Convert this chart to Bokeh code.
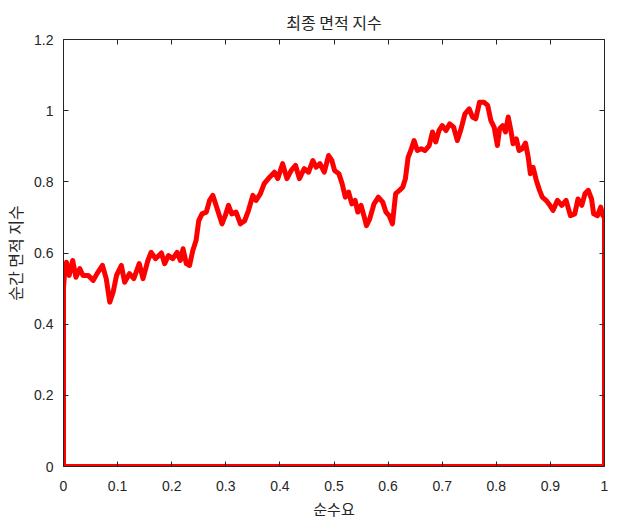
from bokeh.plotting import figure
from bokeh.models import Range1d, FixedTicker, LinearAxis
from bokeh.embed import file_html
from bokeh.resources import INLINE

title_text = "최종 면적 지수"
x_label = "순수요"
y_label = "순간 면적 지수"

x_ticks = [0, 0.1, 0.2, 0.3, 0.4, 0.5, 0.6, 0.7, 0.8, 0.9, 1]
x_tick_labels = ["0", "0.1", "0.2", "0.3", "0.4", "0.5", "0.6", "0.7", "0.8", "0.9", "1"]
y_ticks = [0, 0.2, 0.4, 0.6, 0.8, 1.0, 1.2]
y_tick_labels = ["0", "0.2", "0.4", "0.6", "0.8", "1", "1.2"]

net_demand = [
    0.0, 0.0, 0.002, 0.0055, 0.0105, 0.017, 0.023, 0.030, 0.036, 0.0455, 0.055, 0.062,
    0.072, 0.079, 0.0855, 0.0917, 0.098, 0.107, 0.113, 0.122, 0.130, 0.140, 0.147,
    0.156, 0.162, 0.170, 0.181, 0.187, 0.194, 0.202, 0.210, 0.216, 0.221, 0.227,
    0.233, 0.239, 0.245, 0.250, 0.256, 0.264, 0.270, 0.276, 0.282, 0.287, 0.293,
    0.299, 0.305, 0.311, 0.319, 0.327, 0.335, 0.342, 0.350, 0.356, 0.364, 0.371,
    0.381, 0.390, 0.396, 0.405, 0.413, 0.421, 0.429, 0.436, 0.445, 0.453, 0.461,
    0.467, 0.474, 0.482, 0.490, 0.496, 0.501, 0.509, 0.515, 0.521, 0.527, 0.533,
    0.539, 0.544, 0.550, 0.556, 0.560, 0.566, 0.574, 0.582, 0.590, 0.596, 0.602,
    0.608, 0.614, 0.621, 0.627, 0.632, 0.637, 0.642, 0.648, 0.654, 0.661, 0.668,
    0.676, 0.682, 0.688, 0.694, 0.700, 0.707, 0.714, 0.721, 0.728, 0.734, 0.742,
    0.750, 0.756, 0.762, 0.769, 0.777, 0.784, 0.790, 0.796, 0.802, 0.806, 0.812,
    0.817, 0.822, 0.827, 0.831, 0.837, 0.842, 0.848, 0.854, 0.859, 0.863, 0.868,
    0.874, 0.880, 0.885, 0.892, 0.899, 0.905, 0.913, 0.921, 0.929, 0.937, 0.945,
    0.951, 0.958, 0.964, 0.970, 0.976, 0.980, 0.987, 0.993, 0.997, 1.0, 1.0, 0.0,
]
area_index = [
    0.0, 0.50, 0.545, 0.574, 0.537, 0.579, 0.532, 0.556, 0.537, 0.537, 0.523, 0.542,
    0.565, 0.528, 0.462, 0.490, 0.537, 0.565, 0.518, 0.542, 0.528, 0.570, 0.528,
    0.579, 0.602, 0.584, 0.600, 0.570, 0.593, 0.584, 0.602, 0.579, 0.612, 0.570,
    0.565, 0.607, 0.635, 0.691, 0.710, 0.715, 0.748, 0.762, 0.734, 0.710, 0.682,
    0.705, 0.734, 0.710, 0.715, 0.682, 0.691, 0.720, 0.762, 0.748, 0.767, 0.795,
    0.813, 0.827, 0.809, 0.851, 0.809, 0.832, 0.846, 0.809, 0.837, 0.827, 0.860,
    0.841, 0.851, 0.827, 0.874, 0.860, 0.832, 0.823, 0.795, 0.757, 0.771, 0.738,
    0.748, 0.715, 0.734, 0.701, 0.677, 0.696, 0.738, 0.757, 0.743, 0.715, 0.705,
    0.682, 0.767, 0.776, 0.785, 0.809, 0.869, 0.888, 0.916, 0.888, 0.893, 0.888,
    0.902, 0.940, 0.912, 0.944, 0.958, 0.944, 0.963, 0.954, 0.916, 0.944, 0.991,
    1.005, 0.982, 0.977, 1.024, 1.024, 1.015, 0.972, 0.954, 0.902, 0.949, 0.958,
    0.940, 0.982, 0.944, 0.907, 0.921, 0.888, 0.893, 0.909, 0.869, 0.823, 0.841,
    0.804, 0.776, 0.757, 0.748, 0.734, 0.720, 0.748, 0.734, 0.748, 0.705, 0.710,
    0.752, 0.734, 0.767, 0.776, 0.752, 0.710, 0.705, 0.729, 0.705, 0.70, 0.0, 0.0,
]

TXT = "#262626"
KR = "Noto Sans CJK KR"
LAT = "Liberation Sans"

p = figure(width=609, height=523, output_backend="svg", toolbar_location=None,
           x_range=Range1d(0, 1), y_range=Range1d(0, 1.2),
           min_border_left=52, min_border_right=5, min_border_top=39, min_border_bottom=57)
p.title.text = title_text
p.title.align = "center"
p.title.text_font = KR
p.title.text_font_size = "16px"
p.title.text_font_style = "normal"
p.title.text_color = TXT
p.title.standoff = 11

p.grid.visible = False
p.outline_line_color = None
p.background_fill_color = "white"
p.border_fill_color = "white"

def style_axis(ax, ticks, labels, show_labels):
    ax.ticker = FixedTicker(ticks=ticks)
    ax.major_label_overrides = {t: l for t, l in zip(ticks, labels)}
    ax.major_tick_in = 5
    ax.major_tick_out = 0
    ax.minor_tick_in = 0
    ax.minor_tick_out = 0
    ax.axis_line_color = TXT
    ax.major_tick_line_color = TXT
    ax.major_label_text_color = TXT
    ax.major_label_text_font = LAT
    ax.major_label_text_font_size = "14px"
    ax.axis_label_text_color = TXT
    ax.axis_label_text_font = KR
    ax.axis_label_text_font_size = "15px"
    ax.axis_label_text_font_style = "normal"
    if not show_labels:
        ax.major_label_text_font_size = "0px"
        ax.major_label_text_alpha = 0

style_axis(p.xaxis[0], x_ticks, x_tick_labels, True)
style_axis(p.yaxis[0], y_ticks, y_tick_labels, True)
p.xaxis[0].axis_label = x_label
p.yaxis[0].axis_label = y_label
p.yaxis[0].axis_label_text_font_size = "16px"
p.xaxis[0].major_label_standoff = 14
p.yaxis[0].major_label_standoff = 10
p.xaxis[0].axis_label_standoff = 4
p.yaxis[0].axis_label_standoff = 4

top = LinearAxis()
style_axis(top, x_ticks, x_tick_labels, False)
top.major_label_standoff = 0
p.add_layout(top, "above")
right = LinearAxis()
style_axis(right, y_ticks, y_tick_labels, False)
right.major_label_standoff = 0
p.add_layout(right, "right")

p.line(net_demand, area_index, line_color="#ff0000", line_width=5, line_join="round")

open("out.html", "w").write(file_html(p, INLINE))
